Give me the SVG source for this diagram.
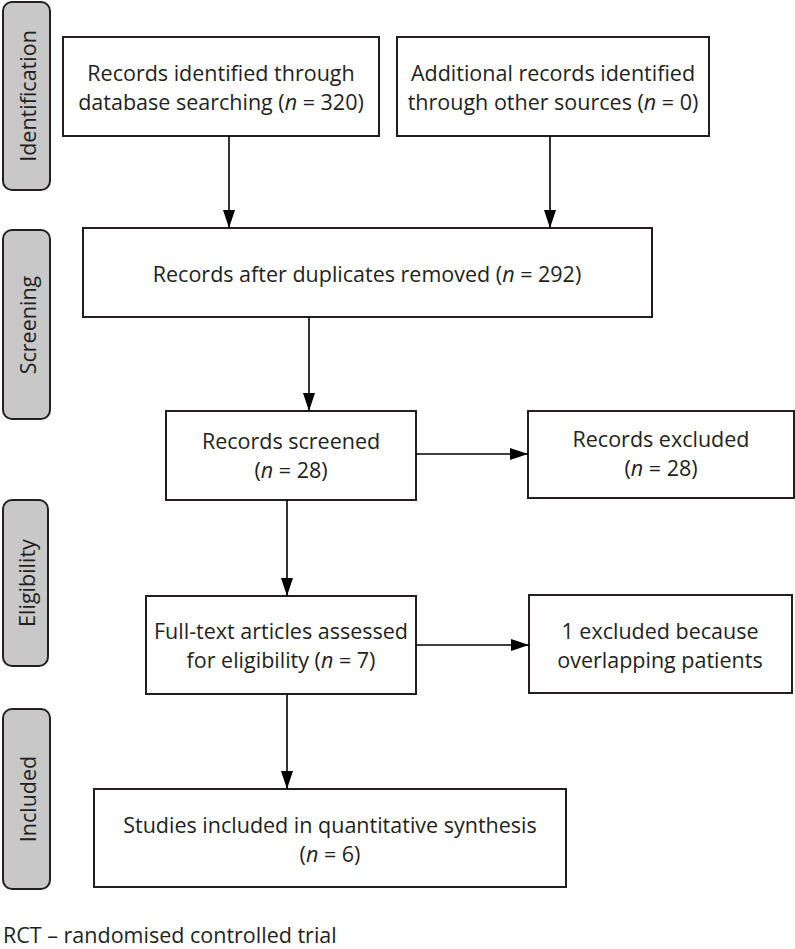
<svg xmlns="http://www.w3.org/2000/svg" width="795" height="949" viewBox="0 0 795 949">
<style>
.box{fill:#fff;stroke:#231f20;stroke-width:2}
.side{fill:#c8c8c8;stroke:#231f20;stroke-width:2}
text{font-family:"Open Sans","Noto Sans",sans-serif;font-size:21.5px;fill:#231f20}
.c{text-anchor:middle}
.conn line{stroke:#000;stroke-width:1.6;marker-end:url(#ah)}
</style>
<defs>
<marker id="ah" viewBox="0 0 18 12" refX="18" refY="6" markerWidth="18" markerHeight="12" markerUnits="userSpaceOnUse" orient="auto">
<path d="M0,0 L18,6 L0,12 Z" fill="#000"/>
</marker>
</defs>

<g id="stage-identification"><rect class="side" x="3" y="2" width="47" height="188" rx="9"/><text class="c" transform="translate(36,96) rotate(-90)">Identification</text></g>
<g id="stage-screening"><rect class="side" x="3" y="230" width="47" height="189" rx="9"/><text class="c" transform="translate(36,325) rotate(-90)">Screening</text></g>
<g id="stage-eligibility"><rect class="side" x="3" y="500" width="45" height="166" rx="9"/><text class="c" transform="translate(35,583) rotate(-90)">Eligibility</text></g>
<g id="stage-included"><rect class="side" x="3" y="709" width="47" height="180" rx="9"/><text class="c" transform="translate(36,799) rotate(-90)">Included</text></g>

<g id="n1"><rect class="box" x="63" y="37" width="316" height="99"/><text class="c" x="221" y="81">Records identified through</text><text class="c" x="221" y="110">database searching (<tspan font-style="italic">n</tspan> = 320)</text></g>
<g id="n2"><rect class="box" x="397" y="37" width="312" height="99"/><text class="c" x="553" y="81">Additional records identified</text><text class="c" x="553" y="110">through other sources (<tspan font-style="italic">n</tspan> = 0)</text></g>
<g id="n3"><rect class="box" x="83" y="228" width="569" height="89"/><text class="c" x="367" y="282">Records after duplicates removed (<tspan font-style="italic">n</tspan> = 292)</text></g>
<g id="n4"><rect class="box" x="166" y="411" width="250" height="89"/><text class="c" x="291" y="449">Records screened</text><text class="c" x="291" y="478">(<tspan font-style="italic">n</tspan> = 28)</text></g>
<g id="n5"><rect class="box" x="528" y="411" width="266" height="87"/><text class="c" x="661" y="447">Records excluded</text><text class="c" x="661" y="476">(<tspan font-style="italic">n</tspan> = 28)</text></g>
<g id="n6"><rect class="box" x="146" y="596" width="270" height="98"/><text class="c" x="281" y="639">Full-text articles assessed</text><text class="c" x="281" y="668">for eligibility (<tspan font-style="italic">n</tspan> = 7)</text></g>
<g id="n7"><rect class="box" x="529" y="595" width="263" height="98"/><text class="c" x="660" y="639">1 excluded because</text><text class="c" x="660" y="668">overlapping patients</text></g>
<g id="n8"><rect class="box" x="94" y="789" width="472" height="98"/><text class="c" x="330" y="833">Studies included in quantitative synthesis</text><text class="c" x="330" y="862">(<tspan font-style="italic">n</tspan> = 6)</text></g>

<g id="connectors" class="conn">
<line x1="229" y1="136" x2="229" y2="228"/>
<line x1="550" y1="136" x2="550" y2="228"/>
<line x1="309" y1="317" x2="309" y2="411"/>
<line x1="416" y1="454" x2="528" y2="454"/>
<line x1="287" y1="500" x2="287" y2="596"/>
<line x1="416" y1="645" x2="529" y2="645"/>
<line x1="287" y1="694" x2="287" y2="789"/>
</g>

<text x="3" y="943">RCT – randomised controlled trial</text>
</svg>
